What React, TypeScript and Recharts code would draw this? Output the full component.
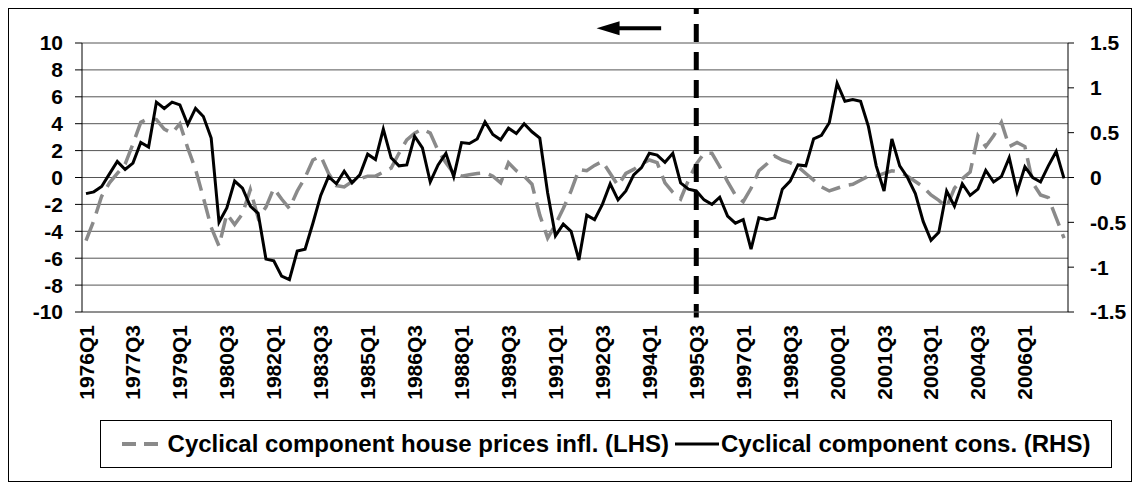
import React from 'react';
import {
  LineChart,
  Line,
  XAxis,
  YAxis,
  CartesianGrid,
  ReferenceLine,
} from 'recharts';

const quarters = [
  '1976Q1', '1976Q2', '1976Q3', '1976Q4', '1977Q1', '1977Q2', '1977Q3', '1977Q4',
  '1978Q1', '1978Q2', '1978Q3', '1978Q4', '1979Q1', '1979Q2', '1979Q3', '1979Q4',
  '1980Q1', '1980Q2', '1980Q3', '1980Q4', '1981Q1', '1981Q2', '1981Q3', '1981Q4',
  '1982Q1', '1982Q2', '1982Q3', '1982Q4', '1983Q1', '1983Q2', '1983Q3', '1983Q4',
  '1984Q1', '1984Q2', '1984Q3', '1984Q4', '1985Q1', '1985Q2', '1985Q3', '1985Q4',
  '1986Q1', '1986Q2', '1986Q3', '1986Q4', '1987Q1', '1987Q2', '1987Q3', '1987Q4',
  '1988Q1', '1988Q2', '1988Q3', '1988Q4', '1989Q1', '1989Q2', '1989Q3', '1989Q4',
  '1990Q1', '1990Q2', '1990Q3', '1990Q4', '1991Q1', '1991Q2', '1991Q3', '1991Q4',
  '1992Q1', '1992Q2', '1992Q3', '1992Q4', '1993Q1', '1993Q2', '1993Q3', '1993Q4',
  '1994Q1', '1994Q2', '1994Q3', '1994Q4', '1995Q1', '1995Q2', '1995Q3', '1995Q4',
  '1996Q1', '1996Q2', '1996Q3', '1996Q4', '1997Q1', '1997Q2', '1997Q3', '1997Q4',
  '1998Q1', '1998Q2', '1998Q3', '1998Q4', '1999Q1', '1999Q2', '1999Q3', '1999Q4',
  '2000Q1', '2000Q2', '2000Q3', '2000Q4', '2001Q1', '2001Q2', '2001Q3', '2001Q4',
  '2002Q1', '2002Q2', '2002Q3', '2002Q4', '2003Q1', '2003Q2', '2003Q3', '2003Q4',
  '2004Q1', '2004Q2', '2004Q3', '2004Q4', '2005Q1', '2005Q2', '2005Q3', '2005Q4',
  '2006Q1', '2006Q2', '2006Q3', '2006Q4', '2007Q1', '2007Q2',
];

// cyclical component of house price inflation (LHS)
const housePrices = [
  -4.7, -3.2, -1.4, -0.4, 0.3, 1.0, 2.5, 4.1, 4.4, 4.3, 3.6, 3.3, 4.0, 2.2, 0.6, -1.5,
  -3.7, -5.1, -2.7, -3.5, -2.7, -0.9, -3.0, -2.2, -0.8, -1.6, -2.3, -1.0, 0.0, 1.3, 1.6, 0.3,
  -0.6, -0.7, -0.3, -0.1, 0.1, 0.1, 0.4, 0.7, 1.8, 2.8, 3.3, 3.6, 3.3, 2.0, 1.1, 0.3,
  0.1, 0.2, 0.3, 0.35, 0.1, -0.4, 1.1, 0.5, 0.1, -0.5, -2.8, -4.5, -3.5, -2.3, -1.0, 0.6,
  0.5, 0.9, 1.2, 0.3, -0.6, 0.3, 0.6, 1.0, 1.3, 1.1, -0.4, -1.1, -1.6, -0.2, 1.0, 1.8,
  1.8, 0.8, -0.3, -1.3, -1.8, -0.8, 0.5, 1.0, 1.6, 1.3, 1.1, 0.8, 0.3, -0.2, -0.7, -1.0,
  -0.8, -0.6, -0.5, -0.2, 0.1, 0.1, 0.3, 0.5, 0.4, 0.1, -0.3, -0.7, -1.3, -1.7, -2.2, -0.8,
  -0.1, 0.4, 3.1, 2.3, 3.1, 4.1, 2.3, 2.6, 2.3, -0.4, -1.3, -1.5, -3.0, -4.5,
];

// cyclical component of consumption (RHS)
const consumption = [
  -0.18, -0.16, -0.1, 0.04, 0.18, 0.09, 0.16, 0.39, 0.34, 0.84, 0.77, 0.84, 0.81, 0.59, 0.77, 0.68,
  0.44, -0.5, -0.34, -0.04, -0.12, -0.32, -0.4, -0.91, -0.93, -1.1, -1.14, -0.82, -0.8, -0.51, -0.2, 0.01,
  -0.07, 0.07, -0.06, 0.03, 0.26, 0.2, 0.54, 0.22, 0.13, 0.14, 0.46, 0.33, -0.05, 0.14, 0.27, 0.01,
  0.39, 0.38, 0.43, 0.62, 0.48, 0.42, 0.55, 0.49, 0.6, 0.51, 0.44, -0.17, -0.65, -0.52, -0.6, -0.92,
  -0.42, -0.47, -0.3, -0.07, -0.25, -0.15, 0.03, 0.11, 0.27, 0.25, 0.17, 0.27, -0.06, -0.13, -0.15, -0.25,
  -0.3, -0.22, -0.43, -0.51, -0.47, -0.8, -0.45, -0.47, -0.45, -0.13, -0.04, 0.14, 0.13, 0.43, 0.47, 0.61,
  1.05, 0.85, 0.87, 0.85, 0.57, 0.13, -0.15, 0.43, 0.13, 0.0, -0.18, -0.49, -0.7, -0.61, -0.15, -0.32,
  -0.07, -0.2, -0.13, 0.08, -0.05, 0.01, 0.22, -0.16, 0.12, 0.0, -0.05, 0.13, 0.29, -0.01,
];

const leftTicks = [-10, -8, -6, -4, -2, 0, 2, 4, 6, 8, 10];
const rightTicks = [-1.5, -1, -0.5, 0, 0.5, 1, 1.5];

const breakQuarter = '1995Q3';
const arrowFrom = '1992Q2';
const arrowTo = '1994Q2';

const data = quarters.map((q, i) => ({
  q,
  house: housePrices[i],
  cons: consumption[i],
}));

const FONT = '"Liberation Sans", Arial, sans-serif';
const tickStyle = { fill: '#000', fontSize: 21, fontWeight: 700, fontFamily: FONT };

const XTick = (props: any) => {
  const { x, y, payload } = props;
  return (
    <text
      x={x}
      y={y}
      transform={`rotate(-90 ${x} ${y})`}
      textAnchor="end"
      dominantBaseline="central"
      style={tickStyle}
    >
      {payload.value}
    </text>
  );
};

const arrowShape = (props: any) => {
  const { x1, y1, x2, y2 } = props;
  return (
    <g>
      <line x1={x1 + 20} y1={y1} x2={x2 + 4} y2={y2} stroke="#000" strokeWidth={4} />
      <polygon points={`${x1 + 2},${y1} ${x1 + 25},${y1 - 7} ${x1 + 25},${y1 + 7}`} fill="#000" />
    </g>
  );
};

export default function App() {
  return (
    <div
      style={{
        position: 'relative',
        width: 1122,
        height: 472,
        border: '1px solid #000',
        background: '#fff',
        fontFamily: FONT,
      }}
    >
      <LineChart
        width={1122}
        height={472}
        data={data}
        margin={{ top: 34, right: 0, bottom: 69, left: 0 }}
        style={{ overflow: 'visible' }}
      >
        <CartesianGrid yAxisId="left" vertical={false} stroke="#555" />
        <XAxis
          dataKey="q"
          interval={5}
          padding={{ left: 4, right: 4 }}
          height={100}
          tickLine={false}
          tickSize={0}
          tickMargin={13}
          axisLine={{ stroke: '#777' }}
          tick={<XTick />}
        />
        <YAxis
          yAxisId="left"
          domain={[-10, 10]}
          ticks={leftTicks}
          interval={0}
          width={73}
          tickSize={7}
          tickMargin={12}
          axisLine={{ stroke: '#000' }}
          tickLine={{ stroke: '#000' }}
          tick={tickStyle}
        />
        <YAxis
          yAxisId="right"
          orientation="right"
          domain={[-1.5, 1.5]}
          ticks={rightTicks}
          interval={0}
          width={63}
          tickSize={6}
          tickMargin={16}
          axisLine={{ stroke: '#000' }}
          tickLine={{ stroke: '#000' }}
          tick={{ ...tickStyle, textAnchor: 'start' }}
        />
        <Line
          yAxisId="left"
          dataKey="house"
          stroke="#8a8a8a"
          strokeWidth={3.5}
          strokeDasharray="20 9"
          dot={false}
          isAnimationActive={false}
        />
        <Line
          yAxisId="right"
          dataKey="cons"
          stroke="#000"
          strokeWidth={3}
          dot={false}
          isAnimationActive={false}
        />
        <ReferenceLine
          yAxisId="left"
          ifOverflow="visible"
          segment={[
            { x: breakQuarter, y: 13.5 },
            { x: breakQuarter, y: -10.4 },
          ]}
          stroke="#000"
          strokeWidth={5}
          strokeDasharray="18 10"
        />
        <ReferenceLine
          yAxisId="left"
          ifOverflow="visible"
          segment={[
            { x: arrowFrom, y: 11.1 },
            { x: arrowTo, y: 11.1 },
          ]}
          shape={arrowShape}
        />
      </LineChart>
      <div
        style={{
          position: 'absolute',
          left: 91,
          top: 411,
          width: 1012,
          height: 48,
          boxSizing: 'border-box',
          border: '1px solid #000',
          display: 'flex',
          alignItems: 'center',
          justifyContent: 'center',
          fontSize: 24,
          fontWeight: 700,
          whiteSpace: 'nowrap',
        }}
      >
        <svg width={44} height={10}>
          <line x1={0} y1={5} x2={44} y2={5} stroke="#8a8a8a" strokeWidth={4} strokeDasharray="14 8" />
        </svg>
        <span style={{ marginLeft: 2, marginRight: 6 }}>Cyclical component house prices infl. (LHS)</span>
        <svg width={44} height={10}>
          <line x1={0} y1={5} x2={44} y2={5} stroke="#000" strokeWidth={3} />
        </svg>
        <span style={{ marginLeft: 2 }}>Cyclical component cons. (RHS)</span>
      </div>
    </div>
  );
}
